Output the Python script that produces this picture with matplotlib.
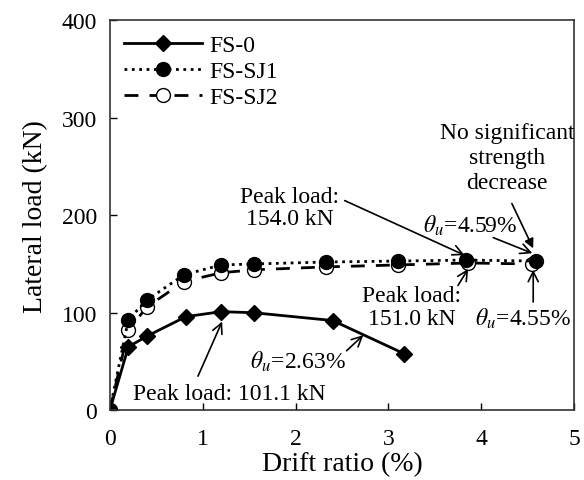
import numpy as np
import matplotlib.pyplot as plt

plt.rcParams['font.family'] = ['Liberation Serif', 'DejaVu Serif']
plt.rcParams['mathtext.fontset'] = 'stix'

# drift ratio (%) and lateral load (kN) per specimen
drift_fs0 = [0, 0.2, 0.4, 0.82, 1.2, 1.55, 2.4, 3.17]
load_fs0 = [0, 65, 76, 96, 101.1, 100, 92, 58]

drift_sj1 = [0, 0.2, 0.4, 0.8, 1.2, 1.55, 2.33, 3.1, 3.84, 4.59]
load_sj1 = [0, 93, 113, 139, 149, 150, 152, 153, 154.0, 153]

drift_sj2 = [0, 0.2, 0.4, 0.8, 1.2, 1.55, 2.33, 3.1, 3.86, 4.55]
load_sj2 = [0, 82, 106, 132, 141, 144, 147, 149, 151.0, 150]

fig, ax = plt.subplots(figsize=(5.84, 4.81), dpi=100)
fig.subplots_adjust(left=0.188, right=0.983, top=0.956, bottom=0.145)

ax.plot(drift_fs0, load_fs0, '-', color='black', lw=2, marker='D', ms=8,
        mfc='black', label='FS-0')
ax.plot(drift_sj1, load_sj1, ':', color='black', lw=2, marker='o', ms=10,
        mfc='black', label='FS-SJ1')
ax.plot(drift_sj2, load_sj2, '--', color='black', lw=2, marker='o', ms=10,
        mfc='white', label='FS-SJ2', dashes=(5, 4), zorder=1.9)

ax.set_xlim(0, 5)
ax.set_ylim(0, 400)
ax.set_xticks([0, 1, 2, 3, 4, 5])
ax.set_yticks([0, 100, 200, 300, 400])
ax.tick_params(direction='in', labelsize=17, length=5, width=1)
ax.tick_params(axis='x', pad=13)
ax.tick_params(axis='y', pad=9)
for s in ax.spines.values():
    s.set_linewidth(1.2)
    s.set_color('#333333')

ax.set_xlabel('Drift ratio (%)', fontsize=20, labelpad=1)
ax.set_ylabel('Lateral load (kN)', fontsize=20, labelpad=10)

ax.legend(loc='upper left', frameon=False, fontsize=17, handlelength=3.3,
          borderaxespad=0.2, labelspacing=0.2, handletextpad=0.3,
          bbox_to_anchor=(0.0, 1.0))

arr = dict(arrowstyle='->', color='black', lw=1.2, mutation_scale=18,
           shrinkA=0, shrinkB=0)
fs = 17


def note(text, pos, **kw):
    ax.text(pos[0], pos[1], text, fontsize=fs, ha='center', va='center', **kw)


def arrow(tail, head, props=arr):
    ax.annotate('', xy=head, xytext=tail, arrowprops=props)


# FS-0 peak and ultimate drift
note('Peak load: 101.1 kN', (1.29, 17))
arrow((0.95, 35), (1.21, 91))
note(r'$\theta_u$=2.63%', (2.03, 51))
arrow((2.55, 61), (2.73, 77))

# FS-SJ1 peak and ultimate drift
note('Peak load:\n154.0 kN', (1.94, 208), linespacing=1.1)
arrow((2.53, 215), (3.82, 159))
note(r'$\theta_u$=4.59%', (3.88, 190))
arrow((4.13, 177), (4.55, 161))
note('No significant\nstrength\ndecrease', (4.28, 259), linespacing=1.25)
arrow((4.33, 212), (4.56, 166),
      dict(arrowstyle='-|>', color='black', lw=1.2, mutation_scale=14,
           shrinkA=0, shrinkB=0))

# FS-SJ2 peak and ultimate drift
note('Peak load:\n151.0 kN', (3.25, 106), linespacing=1.1)
arrow((3.75, 128), (3.86, 145))
note(r'$\theta_u$=4.55%', (4.45, 95))
arrow((4.56, 111), (4.56, 144))

fig.savefig('out.png', dpi=100)
